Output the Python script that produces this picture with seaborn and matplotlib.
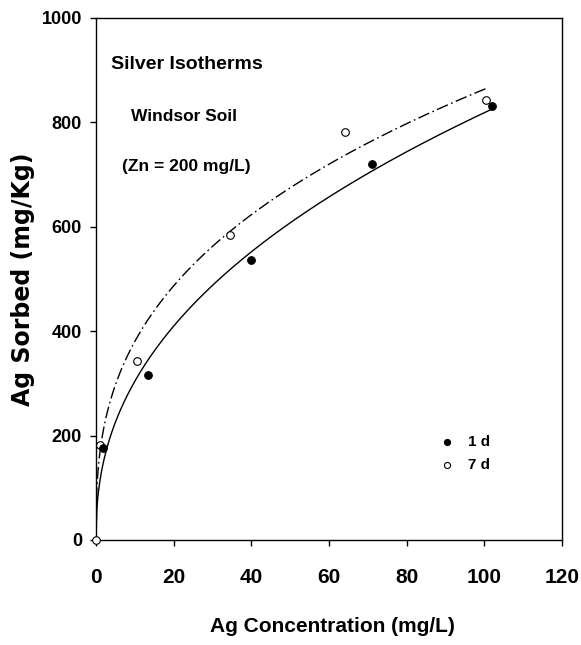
import numpy as np
import pandas as pd
import matplotlib
matplotlib.use("Agg")
import matplotlib.pyplot as plt
from matplotlib import font_manager
import seaborn as sns

# Measured sorption data: Ag concentration (mg/L) vs Ag sorbed (mg/Kg)
conc_1d = [1.9, 13.4, 40.0, 71.0, 101.9]
sorbed_1d = [176, 316, 537, 720, 831]
conc_7d = [0.0, 1.0, 10.5, 34.5, 64.0, 100.4]
sorbed_7d = [0, 182, 343, 585, 782, 842]

# Freundlich isotherm parameters (S = K * C**n) for the fitted curves
freundlich_1d = {"K": 113.0, "n": 0.43, "cmax": 101.9}
freundlich_7d = {"K": 167.6, "n": 0.356, "cmax": 100.4}

series_labels = ["1 d", "7 d"]
x_ticks = [0, 20, 40, 60, 80, 100, 120]
y_ticks = [0, 200, 400, 600, 800, 1000]

sns.set_theme(style="ticks")
available = {f.name for f in font_manager.fontManager.ttflist}
narrow = "Liberation Sans Narrow" if "Liberation Sans Narrow" in available else "Liberation Sans"
plt.rcParams["font.family"] = [narrow, "DejaVu Sans"]
plt.rcParams["font.weight"] = "bold"
for key in ("text.color", "axes.labelcolor", "xtick.color", "ytick.color", "axes.edgecolor"):
    plt.rcParams[key] = "black"

points = pd.concat([
    pd.DataFrame({"conc": conc_1d, "sorbed": sorbed_1d, "time": series_labels[0]}),
    pd.DataFrame({"conc": conc_7d, "sorbed": sorbed_7d, "time": series_labels[1]}),
], ignore_index=True)


def isotherm_curve(params, label):
    c = np.linspace(0.0, params["cmax"], 500)
    return pd.DataFrame({"conc": c, "sorbed": params["K"] * c ** params["n"], "time": label})


curves = pd.concat([isotherm_curve(freundlich_1d, series_labels[0]),
                    isotherm_curve(freundlich_7d, series_labels[1])], ignore_index=True)

fig = plt.figure(figsize=(5.81, 6.45), dpi=100)
ax = fig.add_axes([96 / 581, 1 - 540 / 645, 466 / 581, 522 / 645])

sns.lineplot(data=curves[curves["time"] == series_labels[0]], x="conc", y="sorbed",
             color="black", lw=1.0, ax=ax, legend=False)
sns.lineplot(data=curves[curves["time"] == series_labels[1]], x="conc", y="sorbed",
             color="black", lw=1.0, ax=ax, legend=False)
ax.lines[-1].set_dashes((8.5, 2.5, 1.2, 2.5))

sns.scatterplot(data=points[points["time"] == series_labels[1]], x="conc", y="sorbed",
                marker="o", s=30, facecolor="white", edgecolor="black", linewidth=0.8,
                ax=ax, label=series_labels[1], zorder=3, clip_on=False)
sns.scatterplot(data=points[points["time"] == series_labels[0]], x="conc", y="sorbed",
                marker="o", s=30, color="black", edgecolor="black", linewidth=0.8,
                ax=ax, label=series_labels[0], zorder=4, clip_on=False)

ax.set_xlim(0, 120)
ax.set_ylim(0, 1000)
ax.set_xticks(x_ticks)
ax.set_yticks(y_ticks)
ax.tick_params(axis="both", direction="out", length=4.5, width=1.0, color="black")
ax.tick_params(axis="x", labelsize=15, pad=15.5)
ax.tick_params(axis="y", labelsize=13, pad=5.5)
for lbl in ax.get_xticklabels() + ax.get_yticklabels():
    lbl.set_fontweight("bold")
for sp in ax.spines.values():
    sp.set_visible(True)
    sp.set_linewidth(1.0)
    sp.set_color("black")

ax.set_xlabel("Ag Concentration (mg/L)", fontsize=15, fontweight="bold")
ax.xaxis.set_label_coords(0.508, -0.147)
ax.set_ylabel("Ag Sorbed (mg/Kg)", fontsize=17, fontweight="bold", family="DejaVu Sans")
ax.yaxis.set_label_coords(-0.13, 0.5)

ax.text(23.3, 910, "Silver Isotherms", fontsize=14, fontweight="bold", ha="center", va="center")
ax.text(22.7, 812, "Windsor Soil", fontsize=12.5, fontweight="bold", ha="center", va="center")
ax.text(23.3, 715, "(Zn = 200 mg/L)", fontsize=12.5, fontweight="bold", ha="center", va="center")

handles, labels = ax.get_legend_handles_labels()
order = [labels.index(series_labels[0]), labels.index(series_labels[1])]
ax.legend([handles[i] for i in order], [labels[i] for i in order],
          loc="center left", bbox_to_anchor=(0.736, 0.1653), frameon=False,
          borderpad=0, borderaxespad=0, handlelength=1.0, handletextpad=0.9,
          labelspacing=0.6, markerscale=0.8, prop={"size": 11, "weight": "bold"})

fig.savefig("out.png", dpi=100)
